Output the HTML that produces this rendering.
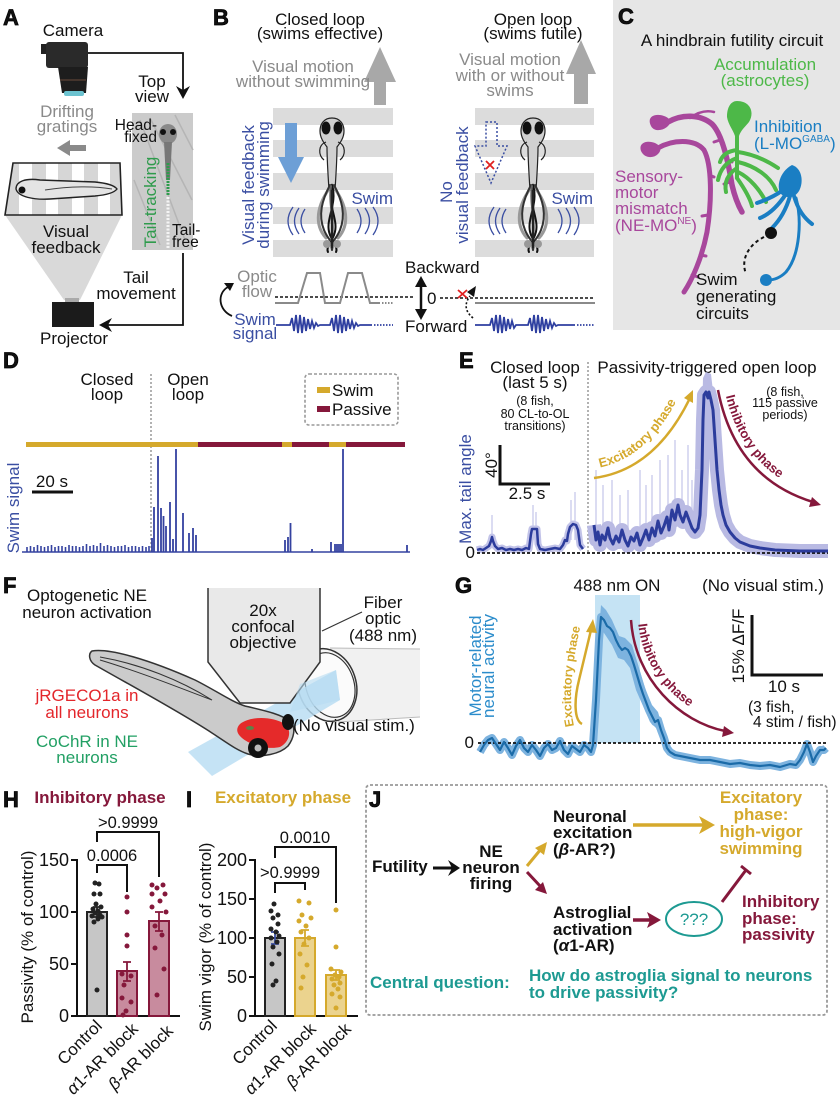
<!DOCTYPE html>
<html><head><meta charset="utf-8">
<style>
html,body{margin:0;padding:0;background:#fff}
svg{display:block}
text{font-family:"Liberation Sans",Arial,Helvetica,sans-serif;font-size:17px;fill:#111}
.pl{font-size:22px;font-weight:bold;stroke:#000;stroke-width:0.7}
.g{fill:#8a8a8a}
.b{fill:#3a4ea2}
.m{text-anchor:middle}
.e{text-anchor:end}
.bd{font-weight:bold}
.sm{font-size:12.5px}
.y{fill:#d5a92c}
.r{fill:#85183b}
.tl{fill:#1d9a92}
</style></head><body>
<svg width="840" height="1098" viewBox="0 0 840 1098" xmlns="http://www.w3.org/2000/svg">
<defs>
 <clipPath id="scr"><polygon points="13,163 120,163 122,215 5,215"/></clipPath>
 <g id="fish">
  <path d="M0 118 C8 118 12 124 12 131 C12 138 8 143 5 147 C5 160 4 175 3 190 L-3 190 C-4 175 -5 160 -5 147 C-8 143 -12 138 -12 131 C-12 124 -8 118 0 118 Z" fill="#d0d0d0" stroke="#222" stroke-width="1.2"/>
  <ellipse cx="-6" cy="128" rx="4.5" ry="6.5" fill="#111"/>
  <ellipse cx="6" cy="128" rx="4.5" ry="6.5" fill="#111"/>
  <path d="M-6 142 C-14 145 -14 155 -8 160 M6 142 C14 145 14 155 8 160" stroke="#222" stroke-width="1.2" fill="none"/>
  <g fill="none" stroke-linecap="round">
   <path d="M0 185 C-16 205 -18 225 -6 238 M0 185 C16 205 18 225 6 238" stroke="#999" stroke-width="3"/>
   <path d="M-2 185 C-10 200 -14 215 -8 230 C-4 240 2 242 0 250 M2 185 C10 200 14 215 8 230 C4 240 -2 242 0 250" stroke="#333" stroke-width="2"/>
   <path d="M0 185 C-6 205 8 220 2 235 C-2 245 -6 248 -4 252 M0 185 C6 205 -8 220 -2 235 C2 245 6 248 4 252" stroke="#111" stroke-width="2"/>
   <path d="M-1 186 C-4 205 4 225 -1 240" stroke="#666" stroke-width="2"/>
  </g>
  <circle cx="-5" cy="244" r="4" fill="#999"/>
  <circle cx="5" cy="244" r="4" fill="#999"/>
  <path d="M0 190 L0 248" stroke="#222" stroke-width="2.5"/>
 </g>
 <g id="arcs" fill="none" stroke="#3a4ea2" stroke-width="1.3">
  <path d="M-27 209 Q-35 221 -27 233 M-33 208 Q-42 221 -33 234 M-39 207 Q-49 221 -39 235"/>
  <path d="M25 209 Q33 221 25 233 M33 208 Q42 221 33 234 M41 207 Q51 221 41 235"/>
 </g>
</defs>

<!-- ================= PANEL A ================= -->
<text x="3" y="25" class="pl">A</text>
<text x="73" y="36" class="m">Camera</text>
<rect x="41" y="44" width="9" height="10" fill="#222"/>
<rect x="46" y="42" width="42" height="26" rx="3" fill="#2a2a2a"/>
<path d="M58 67 L88 67 L86 93 L62 93 Z" fill="#1d1d1d"/>
<line x1="60" y1="80" x2="86" y2="80" stroke="#6b4a3a" stroke-width="1"/>
<rect x="64" y="91" width="20" height="5" rx="2" fill="#6cc3d0"/>
<polyline points="88,53 183,53 183,92" fill="none" stroke="#111" stroke-width="1.8"/>
<polygon points="176,86 183,99 190,86 183,90" fill="#111"/>
<text x="152" y="87" class="m">Top</text>
<text x="152" y="102" class="m">view</text>
<text x="67" y="117" class="m g">Drifting</text>
<text x="67" y="132" class="m g">gratings</text>
<polygon points="57,148 70,140 70,145 86,145 86,151 70,151 70,156" fill="#8a8a8a"/>
<polygon points="5,215 122,215 80,300 64,300" fill="#d9d9d9"/>
<polygon points="13,163 120,163 122,215 5,215" fill="#fff"/>
<g clip-path="url(#scr)" fill="#d6d6d6">
 <rect x="0" y="160" width="19" height="60"/>
 <rect x="32" y="160" width="14" height="60"/>
 <rect x="58" y="160" width="14" height="60"/>
 <rect x="84" y="160" width="14" height="60"/>
 <rect x="110" y="160" width="14" height="60"/>
</g>
<polygon points="13,163 120,163 122,215 5,215" fill="none" stroke="#222" stroke-width="1.6"/>
<path d="M16 189 C16 181 26 178 40 180 L95 182 C106 183 114 185 117 189 C114 193 106 195 95 196 L50 199 C34 200 18 197 16 189 Z" fill="#e4e4e4" stroke="#222" stroke-width="1.4"/>
<path d="M45 190 C70 186 95 186 112 189" fill="none" stroke="#444" stroke-width="1"/>
<circle cx="22" cy="190" r="3.5" fill="#111"/>
<text x="66" y="237" class="m">Visual</text>
<text x="66" y="253" class="m">feedback</text>
<rect x="65" y="298" width="14" height="5" fill="#aaa"/>
<rect x="52" y="302" width="42" height="25" fill="#1b1b1b"/>
<text x="74" y="344" class="m">Projector</text>
<rect x="132" y="113" width="61" height="137" fill="#cbcbcb"/>
<path d="M140 120 L185 240 M150 118 L192 200 M134 180 L160 245 M175 115 L193 150" stroke="#b5b5b5" stroke-width="1.5"/>
<ellipse cx="168" cy="134" rx="9" ry="10" fill="#8a8a8a"/>
<circle cx="163" cy="132" r="3" fill="#111"/><circle cx="173" cy="132" r="3" fill="#111"/>
<path d="M164 142 L172 142 L170 180 L166 180 Z" fill="#777"/>
<line x1="168" y1="163" x2="168" y2="195" stroke="#2e9b4c" stroke-width="3" stroke-dasharray="2 1"/>
<line x1="168" y1="197" x2="168" y2="248" stroke="#f4f4f4" stroke-width="3" stroke-dasharray="2 1.5"/>
<text x="157" y="130" class="e" style="font-size:15.5px">Head-</text>
<text x="157" y="142" class="e" style="font-size:15.5px">fixed</text>
<text transform="translate(156,202) rotate(-90)" class="m" style="fill:#2e9b4c">Tail-tracking</text>
<text x="172" y="235" style="font-size:15.5px">Tail-</text>
<text x="172" y="247" style="font-size:15.5px">free</text>
<polyline points="183,253 183,325 106,325" fill="none" stroke="#111" stroke-width="1.8"/>
<polygon points="99,325 112,318 108,325 112,332" fill="#111"/>
<text x="136" y="283" class="m">Tail</text>
<text x="136" y="299" class="m">movement</text>

<!-- ================= PANEL B ================= -->
<text x="213" y="25" class="pl">B</text>
<text x="320" y="25" class="m">Closed loop</text>
<text x="320" y="39" class="m">(swims effective)</text>
<polygon points="380,47 396,82 386,82 386,105 374,105 374,82 364,82" fill="#a8a8a8"/>
<text x="303" y="72" class="m g">Visual motion</text>
<text x="303" y="87" class="m g">without swimming</text>
<g fill="#dcdcdc">
 <rect x="273" y="108" width="120" height="17"/><rect x="273" y="140" width="120" height="17"/>
 <rect x="273" y="173" width="120" height="17"/><rect x="273" y="207" width="120" height="17"/>
 <rect x="273" y="240" width="120" height="17"/>
</g>
<use href="#fish" x="332"/>
<use href="#arcs" x="332"/>
<polygon points="285,123 297,123 297,157 304,157 291,183 278,157 285,157" fill="#6d9fd6"/>
<text transform="translate(254,185) rotate(-90)" class="m b">Visual feedback</text>
<text transform="translate(269,185) rotate(-90)" class="m b">during swimming</text>
<text x="393" y="204" class="e b">Swim</text>
<text x="257" y="282" class="m g">Optic</text>
<text x="257" y="297" class="m g">flow</text>
<line x1="275" y1="297" x2="415" y2="297" stroke="#111" stroke-width="1.6" stroke-dasharray="3 2"/>
<polyline points="275,303 298,303 307,273 320,273 325,303 340,303 348,273 362,273 370,303 380,303" fill="none" stroke="#8a8a8a" stroke-width="2"/>
<line x1="382" y1="303" x2="393" y2="303" stroke="#8a8a8a" stroke-width="2" stroke-dasharray="1.5 1.5"/>
<path d="M276 325 L290 325 L292 318 L294 331 L296 315 L298 333 L300 315 L302 333 L304 317 L306 331 L308 319 L310 329 L312 321 L314 328 L316 323 L318 326 L320 325 L330 325 L332 318 L334 331 L336 315 L338 333 L340 315 L342 333 L344 317 L346 331 L348 319 L350 329 L352 321 L354 328 L356 323 L358 326 L360 325 L372 325" fill="none" stroke="#2e3fa0" stroke-width="1.8"/>
<line x1="374" y1="325" x2="393" y2="325" stroke="#2e3fa0" stroke-width="1.8" stroke-dasharray="1.5 1.5"/>
<text x="255" y="325" class="m b">Swim</text>
<text x="255" y="339" class="m b">signal</text>
<path d="M232 316 C218 310 217 293 228 287" fill="none" stroke="#111" stroke-width="1.8"/>
<polygon points="234,283 224,283 230,291" fill="#111"/>
<text x="405" y="273">Backward</text>
<text x="405" y="332">Forward</text>
<line x1="421" y1="282" x2="421" y2="314" stroke="#111" stroke-width="2.5"/>
<polygon points="421,276 415,287 427,287" fill="#111"/>
<polygon points="421,320 415,309 427,309" fill="#111"/>
<text x="427" y="304">0</text>
<text x="533" y="25" class="m">Open loop</text>
<text x="533" y="39" class="m">(swims futile)</text>
<polygon points="581,40 596,74 588,74 588,104 574,104 574,74 566,74" fill="#a8a8a8"/>
<text x="510" y="65" class="m g">Visual motion</text>
<text x="510" y="81" class="m g">with or without</text>
<text x="510" y="96" class="m g">swims</text>
<g fill="#dcdcdc">
 <rect x="475" y="108" width="119" height="17"/><rect x="475" y="140" width="119" height="17"/>
 <rect x="475" y="173" width="119" height="17"/><rect x="475" y="207" width="119" height="17"/>
 <rect x="475" y="240" width="119" height="17"/>
</g>
<use href="#fish" x="533"/>
<use href="#arcs" x="533"/>
<polygon points="486,122 497,122 497,146 507,146 491,183 475,146 486,146" fill="none" stroke="#3a4ea2" stroke-width="1.5" stroke-dasharray="2 2"/>
<path d="M486 161 L494 169 M494 161 L486 169" stroke="#e02020" stroke-width="1.8"/>
<text transform="translate(452,192) rotate(-90)" class="m b">No</text>
<text transform="translate(468,185) rotate(-90)" class="m b">visual feedback</text>
<text x="593" y="204" class="e b">Swim</text>
<line x1="440" y1="298" x2="595" y2="298" stroke="#111" stroke-width="1.6" stroke-dasharray="3 2"/>
<line x1="475" y1="303" x2="595" y2="303" stroke="#8a8a8a" stroke-width="2"/>
<path d="M458 290 L467 298 M467 290 L458 298" stroke="#e02020" stroke-width="1.8"/>
<path d="M473 318 Q461 308 470 296" fill="none" stroke="#111" stroke-width="1.6" stroke-dasharray="2 2"/>
<polygon points="476,286 467,292 474,297" fill="#111"/>
<path d="M475 325 L490 325 L492 318 L494 331 L496 315 L498 333 L500 315 L502 333 L504 317 L506 331 L508 319 L510 329 L512 321 L514 328 L516 325 L528 325 L530 318 L532 331 L534 315 L536 333 L538 315 L540 333 L542 317 L544 331 L546 319 L548 329 L550 321 L552 328 L554 323 L556 326 L558 325 L575 325" fill="none" stroke="#2e3fa0" stroke-width="1.8"/>
<line x1="577" y1="325" x2="595" y2="325" stroke="#2e3fa0" stroke-width="1.8" stroke-dasharray="1.5 1.5"/>

<!-- ================= PANEL C ================= -->
<rect x="613" y="0" width="227" height="330" fill="#e6e6e6"/>
<text x="618" y="24" class="pl">C</text>
<text x="732" y="46" class="m">A hindbrain futility circuit</text>
<g fill="none" stroke="#a8479c" stroke-linecap="round">
 <path d="M668 122 C682 114 700 114 712 124 C722 134 728 160 732 185 C735 198 738 205 742 212" stroke-width="5.5"/>
 <path d="M690 118 C698 112 706 110 714 112" stroke-width="2.5"/>
 <path d="M658 148 C672 140 694 138 704 150 C712 165 712 200 707 232 C702 258 692 280 684 292" stroke-width="5"/>
 <path d="M720 140 L714 142 M726 160 L732 162 M730 182 L724 184 M709 175 L714 177 M708 215 L702 216 M700 255 L706 256 M692 275 L698 277" stroke-width="3"/>
</g>
<path d="M651 126 C646 116 656 113 664 116 C670 118 672 122 668 126 C663 131 654 132 651 126 Z" fill="#a8479c"/>
<path d="M641 151 C638 142 648 140 655 143 C661 146 662 150 658 154 C653 159 644 158 641 151 Z" fill="#a8479c"/>
<g fill="none" stroke="#4db848" stroke-width="4" stroke-linecap="round">
 <path d="M737 128 L737 178"/>
 <path d="M737 150 C728 151 722 155 720 162"/>
 <path d="M737 158 C726 162 720 170 718 180"/>
 <path d="M737 168 C728 174 724 182 726 192"/>
 <path d="M738 152 C752 154 766 160 778 168"/>
 <path d="M738 162 C755 166 770 176 776 190"/>
 <path d="M738 172 C750 178 760 190 766 202"/>
 <path d="M737 178 C744 188 750 198 752 206"/>
</g>
<path d="M737 101 C750 101 755 112 749 122 C745 127 741 130 739 136 L735 136 C733 130 728 124 727 117 C727 107 731 101 737 101 Z" fill="#4db848"/>
<g fill="none" stroke="#1a7ec3" stroke-width="4" stroke-linecap="round">
 <path d="M783 190 C775 196 766 200 757 203"/>
 <path d="M786 194 C778 206 770 214 760 218"/>
 <path d="M790 196 C786 210 780 220 772 228"/>
 <path d="M794 196 C798 210 804 218 812 224"/>
 <path d="M796 198 C802 220 800 255 786 272 C780 278 774 280 768 280" stroke-width="3"/>
</g>
<path d="M792 165 C802 168 804 182 799 191 C795 198 786 199 781 194 C776 188 779 172 792 165 Z" fill="#1a7ec3"/>
<circle cx="766" cy="280" r="6" fill="#1a7ec3"/>
<circle cx="771" cy="233" r="6" fill="#111"/>
<path d="M764 237 C750 244 740 258 746 274" fill="none" stroke="#111" stroke-width="2" stroke-dasharray="3.5 3"/>
<text x="765" y="70" class="m" style="fill:#4db848">Accumulation</text>
<text x="765" y="86" class="m" style="fill:#4db848">(astrocytes)</text>
<text x="754" y="132" style="fill:#1a7ec3">Inhibition</text>
<text x="754" y="149" style="fill:#1a7ec3">(L-MO<tspan dy="-7" style="font-size:10px">GABA</tspan><tspan dy="7">)</tspan></text>
<text x="615" y="182" style="fill:#a8479c">Sensory-</text>
<text x="615" y="198" style="fill:#a8479c">motor</text>
<text x="615" y="214" style="fill:#a8479c">mismatch</text>
<text x="615" y="231" style="fill:#a8479c">(NE-MO<tspan dy="-7" style="font-size:10px">NE</tspan><tspan dy="7">)</tspan></text>
<text x="696" y="285">Swim</text>
<text x="696" y="302">generating</text>
<text x="696" y="319">circuits</text>

<!-- ================= PANEL D ================= -->
<text x="3" y="368" class="pl">D</text>
<text x="107" y="385" class="m">Closed</text>
<text x="107" y="400" class="m">loop</text>
<text x="188" y="385" class="m">Open</text>
<text x="188" y="400" class="m">loop</text>
<line x1="151" y1="374" x2="151" y2="552" stroke="#999" stroke-width="1.5" stroke-dasharray="2 2"/>
<rect x="305" y="374" width="93" height="51" rx="4" fill="none" stroke="#999" stroke-width="1.6" stroke-dasharray="3 2"/>
<rect x="317" y="387" width="13" height="6" fill="#d5a92c"/>
<text x="332" y="396">Swim</text>
<rect x="317" y="406" width="13" height="6" fill="#85183b"/>
<text x="332" y="415">Passive</text>
<rect x="26" y="442" width="172" height="5" fill="#d5a92c"/>
<rect x="198" y="442" width="84" height="5" fill="#85183b"/>
<rect x="282" y="442" width="10" height="5" fill="#d5a92c"/>
<rect x="292" y="442" width="37" height="5" fill="#85183b"/>
<rect x="329" y="442" width="17" height="5" fill="#d5a92c"/>
<rect x="346" y="442" width="59" height="5" fill="#85183b"/>
<line x1="22" y1="552" x2="410" y2="552" stroke="#3442a0" stroke-width="1.6"/>
<path d="M27 552V547M30.5 552V546M34 552V547M37.5 552V545M41 552V546M44.5 552V547M48 552V546M51.5 552V545M55 552V547M58.5 552V546M62 552V546M65.5 552V547M69 552V545M72.5 552V546M76 552V546M79.5 552V547M83 552V546M86.5 552V544M90 552V546M93.5 552V545M97 552V546M100.5 552V543M104 552V546M107.5 552V545M111 552V546M114.5 552V547M118 552V546M121.5 552V546M125 552V545M128.5 552V547M132 552V546M135.5 552V546M139 552V547M142.5 552V546M146 552V547M149 552V546" stroke="#3442a0" stroke-width="1.6"/>
<path d="M152 552V538M154 552V507M158 552V456M161 552V508M163.5 552V516M166 552V526M170 552V502M173 552V539M176 552V449M183 552V513M189 552V533M193 552V528M196 552V535M285 552V540M288 552V537M290.5 552V523M312 552V549M331 552V542M335 552V544M337 552V544M339 552V544M341 552V544M343 552V449M407 552V545" stroke="#3442a0" stroke-width="1.8"/>
<line x1="32" y1="492" x2="73" y2="492" stroke="#111" stroke-width="3"/>
<text x="52" y="487" class="m">20 s</text>
<text transform="translate(19,508) rotate(-90)" class="m b">Swim signal</text>

<!-- ================= PANEL E ================= -->
<text x="459" y="368" class="pl">E</text>
<text x="535" y="373" class="m">Closed loop</text>
<text x="535" y="388" class="m">(last 5 s)</text>
<text x="535" y="405" class="m sm">(8 fish,</text>
<text x="535" y="418" class="m sm">80 CL-to-OL</text>
<text x="535" y="430" class="m sm">transitions)</text>
<line x1="588" y1="362" x2="588" y2="552" stroke="#999" stroke-width="1.5" stroke-dasharray="2 2"/>
<text x="707" y="373" class="m">Passivity-triggered open loop</text>
<text x="785" y="396" class="m sm">(8 fish,</text>
<text x="785" y="407" class="m sm">115 passive</text>
<text x="785" y="419" class="m sm">periods)</text>
<polyline points="500,445 500,484 550,484" fill="none" stroke="#111" stroke-width="3"/>
<text transform="translate(497,465) rotate(-90)" class="m">40°</text>
<text x="527" y="499" class="m">2.5 s</text>
<text transform="translate(471,489) rotate(-90)" class="m b">Max. tail angle</text>
<text x="475" y="558" class="e">0</text>
<g stroke="#cfd0ee" stroke-width="1.5">
 <path d="M492 545V515M533 540V505M536 540V512M575 540V492M571 540V500M596 535V470M603 535V485M612 535V480M628 535V490M640 535V470M652 530V475M660 530V460M668 525V455M675 520V440M682 520V470M688 515V445M692 520V480M697 525V470M700 520V440M620 535V495M646 535V485"/>
</g>
<polyline points="477,550 480,549 483,550 486,548 489,546 491,541 492,537 493,541 495,546 498,549 502,548 506,550 510,549 514,550 518,549 522,550 526,548 529,549 531,534 532,529 537,529 538,544 540,549 545,550 550,549 555,548 560,549 563,545 565,540 567,541 568,534 570,527 573,524 576,525 578,530 580,545 583,549" fill="none" stroke="#c2c3e8" stroke-width="7" stroke-linejoin="round"/>
<polyline points="594,525 596,540 598,532 600,545 602,535 605,540 608,528 610,538 613,544 616,536 619,542 622,530 625,540 628,546 631,537 634,541 637,533 640,545 643,538 646,530 649,540 652,528 655,536 658,521 661,533 664,526 667,517 669,530 672,510 675,520 678,505 680,515 683,522 686,512 689,520 692,528 695,532 698,528 700,515 702,470 703,420 704,395 706,392 708,398 709,392 711,400 713,410 715,440 717,470 719,490 721,505 723,515 726,525 730,532 735,538 740,542 750,546 760,548 775,550 800,551 828,551" fill="none" stroke="#b9bae3" stroke-width="14" stroke-linejoin="round"/>
<polygon points="699,530 701,460 703,378 706,372 711,374 714,400 717,450 721,495 725,520 722,528 716,500 713,460 710,420 706,415 703,470 701,530" fill="#b9bae3"/>
<line x1="477" y1="553" x2="828" y2="553" stroke="#111" stroke-width="1.8" stroke-dasharray="3 2"/>
<polyline points="477,550 480,549 483,550 486,548 489,546 491,541 492,537 493,541 495,546 498,549 502,548 506,550 510,549 514,550 518,549 522,550 526,548 529,549 531,534 532,529 537,529 538,544 540,549 545,550 550,549 555,548 560,549 563,545 565,540 567,541 568,534 570,527 573,524 576,525 578,530 580,545 583,549" fill="none" stroke="#2c3c9c" stroke-width="2.5" stroke-linejoin="round"/>
<polyline points="594,525 596,540 598,532 600,545 602,535 605,540 608,528 610,538 613,544 616,536 619,542 622,530 625,540 628,546 631,537 634,541 637,533 640,545 643,538 646,530 649,540 652,528 655,536 658,521 661,533 664,526 667,517 669,530 672,510 675,520 678,505 680,515 683,522 686,512 689,520 692,528 695,532 698,528 700,515 702,470 703,420 704,395 706,392 708,398 709,392 711,400 713,410 715,440 717,470 719,490 721,505 723,515 726,525 730,532 735,538 740,542 750,546 760,548 775,550 800,551 828,551" fill="none" stroke="#2c3c9c" stroke-width="3" stroke-linejoin="round"/>
<path d="M594 478 Q655 470 690 398" fill="none" stroke="#d5a92c" stroke-width="2.5"/>
<polygon points="693,390 693,403 684,398" fill="#d5a92c"/>
<path id="exEt" d="M598 468 Q648 458 678 398" fill="none"/>
<text class="bd y" style="font-size:13px"><textPath href="#exEt" startOffset="2">Excitatory phase</textPath></text>
<path d="M718 390 Q735 478 813 502" fill="none" stroke="#85183b" stroke-width="2.5"/>
<polygon points="821,505 809,507 812,497" fill="#85183b"/>
<path id="inEt" d="M725 392 Q742 470 812 494" fill="none"/>
<text class="bd r" style="font-size:13px"><textPath href="#inEt" startOffset="4">Inhibitory phase</textPath></text>

<!-- ================= PANEL F ================= -->
<text x="3" y="593" class="pl">F</text>
<text x="87" y="601" class="m">Optogenetic NE</text>
<text x="87" y="618" class="m">neuron activation</text>
<polygon points="330,648 420,649 420,717 338,722" fill="#f1f1f1"/>
<path d="M330 648 L420 649 M338 722 L420 717" stroke="#bbb" stroke-width="1"/>
<ellipse cx="327" cy="685" rx="29" ry="37" transform="rotate(-18 327 685)" fill="#f6f6f6" stroke="#333" stroke-width="1.5"/>
<ellipse cx="330" cy="685" rx="24" ry="33" transform="rotate(-18 330 685)" fill="#fbfbfb" stroke="#333" stroke-width="1.2"/>
<line x1="322" y1="631" x2="362" y2="612" stroke="#333" stroke-width="1.2"/>
<text x="383" y="608" class="m">Fiber</text>
<text x="383" y="624" class="m">optic</text>
<text x="383" y="641" class="m">(488 nm)</text>
<polygon points="336,670 340,700 212,776 188,752" fill="#b7dcf2" opacity="0.8"/>
<path d="M92 651 C110 648 150 660 195 680 C215 690 232 702 245 706 C262 710 282 714 291 722 C296 728 294 738 288 746 C280 754 262 758 248 754 C236 750 226 742 212 733 C180 712 130 685 95 665 C89 661 88 654 92 651 Z" fill="#cbcbcb" stroke="#333" stroke-width="1.5"/>
<path d="M100 657 C140 664 180 680 212 700 C180 688 140 672 100 660" fill="none" stroke="#333" stroke-width="1"/>
<path d="M240 724 C250 716 272 716 285 724 C292 730 290 742 280 747 C268 750 250 745 242 738 C236 733 236 728 240 724 Z" fill="#e52a2a"/>
<ellipse cx="250" cy="728" rx="4" ry="2" fill="#3a9a50" opacity="0.8"/>
<ellipse cx="288" cy="722" rx="6" ry="8" fill="#111"/>
<circle cx="258" cy="748" r="10" fill="#111"/>
<circle cx="258" cy="748" r="3.5" fill="#bbb"/>
<path d="M208 588 L320 588 L320 662 L290 703 L240 703 L208 662 Z" fill="#e9e9e9"/>
<path d="M208 588 L208 662 L240 703 L290 703 L320 662 L320 588" fill="none" stroke="#333" stroke-width="1.5"/>
<polygon points="300,684 336,670 340,700 290,712" fill="#b7dcf2" opacity="0.6"/>
<text x="263" y="616" class="m">20x</text>
<text x="263" y="632" class="m">confocal</text>
<text x="263" y="648" class="m">objective</text>
<text x="87" y="701" class="m" style="fill:#e3262b">jRGECO1a in</text>
<text x="87" y="718" class="m" style="fill:#e3262b">all neurons</text>
<text x="87" y="747" class="m" style="fill:#22a064">CoChR in NE</text>
<text x="87" y="763" class="m" style="fill:#22a064">neurons</text>
<text x="293" y="731">(No visual stim.)</text>

<!-- ================= PANEL G ================= -->
<text x="455" y="593" class="pl">G</text>
<text x="617" y="591" class="m">488 nm ON</text>
<text x="763" y="591" class="m">(No visual stim.)</text>
<rect x="595" y="595" width="45" height="148" fill="#c5e3f4"/>
<polyline points="752,615 752,675 823,675" fill="none" stroke="#111" stroke-width="3"/>
<text transform="translate(744,646) rotate(-90)" class="m">15% ΔF/F</text>
<text x="784" y="692" class="m">10 s</text>
<text x="748" y="712" style="font-size:15.5px">(3 fish,</text>
<text x="753" y="727" style="font-size:15.5px">4 stim / fish)</text>
<text transform="translate(481,666) rotate(-90)" class="m" style="fill:#2b8ccb">Motor-related</text>
<text transform="translate(494,666) rotate(-90)" class="m" style="fill:#2b8ccb">neural activity</text>
<text x="474" y="748" class="e">0</text>
<polyline points="480,752 484,745 488,740 492,738 496,744 500,750 504,742 508,748 512,755 516,746 520,740 524,748 528,752 532,745 536,750 540,756 544,748 548,744 552,750 556,748 560,741 564,750 568,754 572,746 576,749 580,752 584,745 588,748 591,752 593,745 596,700 599,640 601,617 604,620 607,626 610,628 613,632 616,640 619,646 622,650 625,648 628,650 631,656 634,665 637,675 640,685 643,694 646,702 649,710 652,716 655,722 658,720 661,730 664,738 667,748 670,752 675,755 680,756 690,758 700,760 710,760 720,762 730,764 740,763 750,765 760,766 770,765 780,767 790,764 796,765 800,760 804,752 807,744 810,752 813,762 816,756 820,750 824,750 826,748" fill="none" stroke="#7db3df" stroke-width="8" stroke-linejoin="round"/>
<polygon points="596,700 599,630 601,605 606,610 612,620 619,636 625,638 632,645 638,665 645,688 652,705 658,712 662,726 666,740 663,745 656,728 650,722 643,706 636,690 630,668 624,660 618,658 612,645 606,636 602,630 599,660 596,745" fill="#7db3df"/>
<line x1="478" y1="743" x2="826" y2="743" stroke="#111" stroke-width="1.8" stroke-dasharray="3 2"/>
<polyline points="480,752 484,745 488,740 492,738 496,744 500,750 504,742 508,748 512,755 516,746 520,740 524,748 528,752 532,745 536,750 540,756 544,748 548,744 552,750 556,748 560,741 564,750 568,754 572,746 576,749 580,752 584,745 588,748 591,752 593,745 596,700 599,640 601,617 604,620 607,626 610,628 613,632 616,640 619,646 622,650 625,648 628,650 631,656 634,665 637,675 640,685 643,694 646,702 649,710 652,716 655,722 658,720 661,730 664,738 667,748 670,752 675,755 680,756 690,758 700,760 710,760 720,762 730,764 740,763 750,765 760,766 770,765 780,767 790,764 796,765 800,760 804,752 807,744 810,752 813,762 816,756 820,750 824,750 826,748" fill="none" stroke="#1b6ba8" stroke-width="2.2" stroke-linejoin="round"/>
<path d="M582 724 C574 720 574 700 579 680 L591 630" fill="none" stroke="#d5a92c" stroke-width="2.5"/>
<polygon points="593,619 586,632 597,633" fill="#d5a92c"/>
<path id="exGt" d="M574 726 C568 700 571 660 586 604" fill="none"/>
<text class="bd y" style="font-size:12.5px"><textPath href="#exGt" startOffset="0">Excitatory phase</textPath></text>
<path d="M631 620 C635 680 680 722 725 731" fill="none" stroke="#85183b" stroke-width="2.5"/>
<polygon points="734,733 722,737 724,726" fill="#85183b"/>
<path id="inGt" d="M638 622 C643 676 684 712 724 722" fill="none"/>
<text class="bd r" style="font-size:13px"><textPath href="#inGt" startOffset="2">Inhibitory phase</textPath></text>

<!-- ================= PANEL H ================= -->
<text x="3" y="807" class="pl">H</text>
<text x="100" y="803" class="m bd r">Inhibitory phase</text>
<text transform="translate(33,937) rotate(-90)" class="m">Passivity (% of control)</text>
<g stroke="#111" stroke-width="2">
 <line x1="77" y1="859" x2="77" y2="1017"/>
 <line x1="76" y1="1016" x2="180" y2="1016"/>
 <path d="M71 860H77M71 912H77M71 964H77M71 1016H77"/>
</g>
<text x="69" y="866" class="e" style="font-size:18px">150</text>
<text x="69" y="918" class="e" style="font-size:18px">100</text>
<text x="69" y="970" class="e" style="font-size:18px">50</text>
<text x="69" y="1022" class="e" style="font-size:18px">0</text>
<rect x="87" y="912" width="20" height="104" fill="#c6c6c6" stroke="#222" stroke-width="2"/>
<rect x="117" y="971" width="20" height="45" fill="#c88b9e" stroke="#85183b" stroke-width="2"/>
<rect x="149" y="921" width="20" height="95" fill="#c88b9e" stroke="#85183b" stroke-width="2"/>
<path d="M97 907V917M93 907H101M93 917H101" stroke="#222" stroke-width="1.8"/>
<path d="M127 962V981M123 962H131M123 981H131" stroke="#85183b" stroke-width="1.8"/>
<path d="M159 912V931M155 912H163M155 931H163" stroke="#85183b" stroke-width="1.8"/>
<g fill="#222">
 <circle cx="95" cy="883" r="2.5"/><circle cx="99" cy="884" r="2.5"/><circle cx="94" cy="894" r="2.5"/><circle cx="100" cy="894" r="2.5"/>
 <circle cx="96" cy="904" r="2.5"/><circle cx="101" cy="907" r="2.5"/><circle cx="93" cy="909" r="2.5"/><circle cx="98" cy="911" r="2.5"/>
 <circle cx="95" cy="913" r="2.5"/><circle cx="100" cy="915" r="2.5"/><circle cx="92" cy="916" r="2.5"/><circle cx="98" cy="919" r="2.5"/>
 <circle cx="94" cy="922" r="2.5"/><circle cx="102" cy="917" r="2.5"/><circle cx="97" cy="990" r="2.5"/>
</g>
<g fill="#85183b">
 <circle cx="127" cy="897" r="2.5"/><circle cx="127" cy="912" r="2.5"/><circle cx="127" cy="935" r="2.5"/><circle cx="127" cy="946" r="2.5"/>
 <circle cx="122" cy="974" r="2.5"/><circle cx="131" cy="976" r="2.5"/><circle cx="124" cy="985" r="2.5"/><circle cx="122" cy="998" r="2.5"/>
 <circle cx="131" cy="1002" r="2.5"/><circle cx="126" cy="1011" r="2.5"/><circle cx="123" cy="1015" r="2.5"/>
 <circle cx="152" cy="885" r="2.5"/><circle cx="163" cy="885" r="2.5"/><circle cx="157" cy="888" r="2.5"/><circle cx="152" cy="894" r="2.5"/>
 <circle cx="165" cy="894" r="2.5"/><circle cx="160" cy="901" r="2.5"/><circle cx="152" cy="907" r="2.5"/><circle cx="166" cy="912" r="2.5"/>
 <circle cx="155" cy="926" r="2.5"/><circle cx="162" cy="935" r="2.5"/><circle cx="155" cy="948" r="2.5"/><circle cx="164" cy="969" r="2.5"/>
 <circle cx="157" cy="995" r="2.5"/>
</g>
<path d="M97 873V865H127V892" fill="none" stroke="#111" stroke-width="2"/>
<path d="M97 842V832H159V877" fill="none" stroke="#111" stroke-width="2"/>
<text x="112" y="861" class="m" style="font-size:16.5px">0.0006</text>
<text x="128" y="828" class="m" style="font-size:16.5px">&gt;0.9999</text>
<text transform="translate(103,1027) rotate(-45)" class="e">Control</text>
<text transform="translate(139,1030) rotate(-45)" class="e"><tspan font-style="italic">α</tspan>1-AR block</text>
<text transform="translate(174,1032) rotate(-45)" class="e"><tspan font-style="italic">β</tspan>-AR block</text>

<!-- ================= PANEL I ================= -->
<text x="186" y="807" class="pl">I</text>
<text x="283" y="803" class="m bd y">Excitatory phase</text>
<text transform="translate(211,937) rotate(-90)" class="m">Swim vigor (% of control)</text>
<g stroke="#111" stroke-width="2">
 <line x1="255" y1="859" x2="255" y2="1017"/>
 <line x1="254" y1="1016" x2="358" y2="1016"/>
 <path d="M249 860H255M249 899H255M249 938H255M249 977H255M249 1016H255"/>
</g>
<text x="247" y="866" class="e" style="font-size:18px">200</text>
<text x="247" y="905" class="e" style="font-size:18px">150</text>
<text x="247" y="944" class="e" style="font-size:18px">100</text>
<text x="247" y="983" class="e" style="font-size:18px">50</text>
<text x="247" y="1022" class="e" style="font-size:18px">0</text>
<rect x="265" y="938" width="20" height="78" fill="#c6c6c6" stroke="#222" stroke-width="2"/>
<rect x="295" y="938" width="20" height="78" fill="#ebd38e" stroke="#d5a92c" stroke-width="2"/>
<rect x="326" y="975" width="20" height="41" fill="#ebd38e" stroke="#d5a92c" stroke-width="2"/>
<path d="M275 932V944M271 932H279M271 944H279" stroke="#3a4ea2" stroke-width="1.8"/>
<path d="M305 930V946M301 930H309M301 946H309" stroke="#d5a92c" stroke-width="1.8"/>
<path d="M336 970V980M332 970H340M332 980H340" stroke="#d5a92c" stroke-width="1.8"/>
<g fill="#222">
 <circle cx="274" cy="904" r="2.5"/><circle cx="271" cy="911" r="2.5"/><circle cx="278" cy="915" r="2.5"/><circle cx="273" cy="918" r="2.5"/>
 <circle cx="278" cy="924" r="2.5"/><circle cx="271" cy="929" r="2.5"/><circle cx="276" cy="932" r="2.5"/><circle cx="279" cy="936" r="2.5"/>
 <circle cx="271" cy="938" r="2.5"/><circle cx="277" cy="942" r="2.5"/><circle cx="273" cy="947" r="2.5"/><circle cx="279" cy="954" r="2.5"/>
 <circle cx="272" cy="964" r="2.5"/><circle cx="276" cy="981" r="2.5"/><circle cx="273" cy="985" r="2.5"/>
</g>
<g fill="#d5a92c">
 <circle cx="299" cy="901" r="2.5"/><circle cx="309" cy="903" r="2.5"/><circle cx="302" cy="915" r="2.5"/><circle cx="311" cy="918" r="2.5"/>
 <circle cx="299" cy="921" r="2.5"/><circle cx="306" cy="926" r="2.5"/><circle cx="301" cy="932" r="2.5"/><circle cx="309" cy="938" r="2.5"/>
 <circle cx="304" cy="944" r="2.5"/><circle cx="300" cy="954" r="2.5"/><circle cx="307" cy="965" r="2.5"/><circle cx="303" cy="977" r="2.5"/>
 <circle cx="301" cy="988" r="2.5"/>
 <circle cx="336" cy="910" r="2.5"/><circle cx="336" cy="947" r="2.5"/><circle cx="331" cy="969" r="2.5"/><circle cx="341" cy="972" r="2.5"/>
 <circle cx="335" cy="975" r="2.5"/><circle cx="339" cy="977" r="2.5"/><circle cx="332" cy="979" r="2.5"/><circle cx="340" cy="983" r="2.5"/>
 <circle cx="334" cy="985" r="2.5"/><circle cx="338" cy="989" r="2.5"/><circle cx="332" cy="994" r="2.5"/><circle cx="340" cy="997" r="2.5"/>
 <circle cx="336" cy="1008" r="2.5"/>
</g>
<path d="M275 893V883H305V890" fill="none" stroke="#111" stroke-width="2"/>
<path d="M275 858V847H336V903" fill="none" stroke="#111" stroke-width="2"/>
<text x="290" y="878" class="m" style="font-size:16.5px">&gt;0.9999</text>
<text x="305" y="843" class="m" style="font-size:16.5px">0.0010</text>
<text transform="translate(278,1027) rotate(-45)" class="e">Control</text>
<text transform="translate(317,1030) rotate(-45)" class="e"><tspan font-style="italic">α</tspan>1-AR block</text>
<text transform="translate(352,1030) rotate(-45)" class="e"><tspan font-style="italic">β</tspan>-AR block</text>

<!-- ================= PANEL J ================= -->
<rect x="366" y="785" width="461" height="230" rx="4" fill="none" stroke="#999" stroke-width="1.8" stroke-dasharray="3 2"/>
<text x="369" y="807" class="pl">J</text>
<text x="372" y="872" class="bd">Futility</text>
<line x1="433" y1="868" x2="452" y2="868" stroke="#111" stroke-width="3"/>
<polygon points="460,868 448,860 452,868 448,876" fill="#111"/>
<text x="491" y="857" class="m bd">NE</text>
<text x="491" y="873" class="m bd">neuron</text>
<text x="491" y="889" class="m bd">firing</text>
<line x1="527" y1="866" x2="541" y2="849" stroke="#d5a92c" stroke-width="3"/>
<polygon points="547,842 544,855 535,848" fill="#d5a92c"/>
<line x1="527" y1="872" x2="541" y2="887" stroke="#85183b" stroke-width="3"/>
<polygon points="547,894 535,890 543,882" fill="#85183b"/>
<text x="553" y="822" class="bd">Neuronal</text>
<text x="553" y="838" class="bd">excitation</text>
<text x="553" y="855" class="bd">(<tspan font-style="italic">β</tspan>-AR?)</text>
<line x1="633" y1="825" x2="703" y2="825" stroke="#d5a92c" stroke-width="3.5"/>
<polygon points="715,825 699,816 703,825 699,834" fill="#d5a92c"/>
<text x="761" y="803" class="m bd y">Excitatory</text>
<text x="761" y="820" class="m bd y">phase:</text>
<text x="761" y="837" class="m bd y">high-vigor</text>
<text x="761" y="854" class="m bd y">swimming</text>
<text x="553" y="918" class="bd">Astroglial</text>
<text x="553" y="935" class="bd">activation</text>
<text x="553" y="951" class="bd">(<tspan font-style="italic">α</tspan>1-AR)</text>
<line x1="633" y1="920" x2="650" y2="920" stroke="#85183b" stroke-width="3.5"/>
<polygon points="661,920 647,912 650,920 647,928" fill="#85183b"/>
<ellipse cx="694" cy="919" rx="28" ry="17" fill="none" stroke="#1d9a92" stroke-width="2"/>
<text x="694" y="925" class="m tl">???</text>
<line x1="722" y1="902" x2="746" y2="870" stroke="#85183b" stroke-width="3"/>
<line x1="741" y1="866" x2="751" y2="874" stroke="#85183b" stroke-width="3"/>
<text x="742" y="907" class="bd r">Inhibitory</text>
<text x="742" y="924" class="bd r">phase:</text>
<text x="742" y="940" class="bd r">passivity</text>
<text x="370" y="988" class="bd tl">Central question:</text>
<text x="529" y="981" class="bd tl">How do astroglia signal to neurons</text>
<text x="529" y="998" class="bd tl">to drive passivity?</text>
</svg>
</body></html>
